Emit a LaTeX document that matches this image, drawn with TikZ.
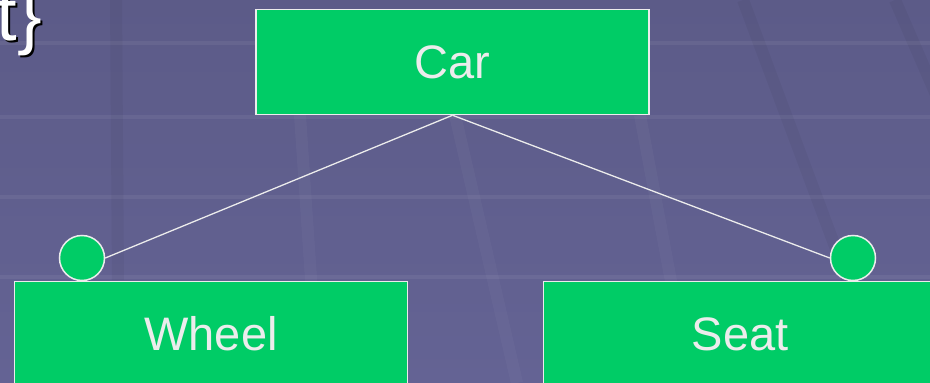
\documentclass[tikz,border=0pt]{standalone}
\usepackage{fontspec}
\setmainfont{Liberation Sans}
\usepackage{xcolor}
\usetikzlibrary{calc}

\begin{document}
\begin{tikzpicture}[x=1pt, y=-1pt]
    % --- GLOBAL DEFINITIONS ---
    \def\boxw{393} % Class box width
    \def\boxh{105} % Class box height
    \def\rowy{334} % Centre line of the lower boxes

    % Custom colors
    \definecolor{slidetop}{RGB}{92, 91, 136}
    \definecolor{slidebottom}{RGB}{100, 99, 148}
    \definecolor{boxgreen}{RGB}{0, 204, 102}
    \definecolor{linegray}{RGB}{236, 236, 236}

    \tikzset{
        classbox/.style={rectangle, draw=linegray, line width=1.5pt, fill=boxgreen, minimum width=\boxw pt, minimum height=\boxh pt, inner sep=0pt, text=linegray, font=\fontsize{47}{56}\selectfont},
        endball/.style={circle, draw=linegray, line width=1.5pt, fill=boxgreen, minimum size=45pt, inner sep=0pt},
        link/.style={draw=linegray, line width=1.3pt},
        lightband/.style={line width=4pt, white, opacity=0.06},
        darkband/.style={line width=12pt, black, opacity=0.04},
        headtext/.style={anchor=base east, inner sep=0pt, font=\fontsize{74}{86}\selectfont}
    }

    % BACKGROUND
    \useasboundingbox (0,0) rectangle (930,383);
    \clip (0,0) rectangle (930,383);
    \shade[top color=slidetop, bottom color=slidebottom] (0,0) rectangle (930,383);
    \foreach \y in {43, 117, 197, 277} {
        \draw[lightband] (0,\y) -- (930,\y);
    }
    \draw[darkband] (116,0) -- (118,280);
    \draw[darkband] (743,0) -- (886,383);
    \draw[darkband] (895,0) -- (960,150);
    \draw[lightband, line width=12pt, opacity=0.03] (300,115) -- (318,383);
    \draw[lightband, line width=12pt, opacity=0.03] (455,115) -- (517,383);
    \draw[lightband, line width=12pt, opacity=0.03] (640,115) -- (690,383);

    % HEADING (cut off)
    \node[headtext, text=black] (headshadow) at (44,42) {t\}};
    \node[headtext, text=white] (head) at (42,40) {t\}};

    % CLASSES
    \node[classbox] (car) at (452.5,62) {Car};
    \node[classbox] (wheel) at (211,\rowy) {Wheel};
    \node[classbox] (seat) at (740,\rowy) {Seat};

    % ENDS
    \node[endball] (wheelend) at (82,258) {};
    \node[endball] (seatend) at (853,258) {};

    \draw[link] (car.south) -- (wheelend.east);
    \draw[link] (car.south) -- (seatend.west);
\end{tikzpicture}
\end{document}
